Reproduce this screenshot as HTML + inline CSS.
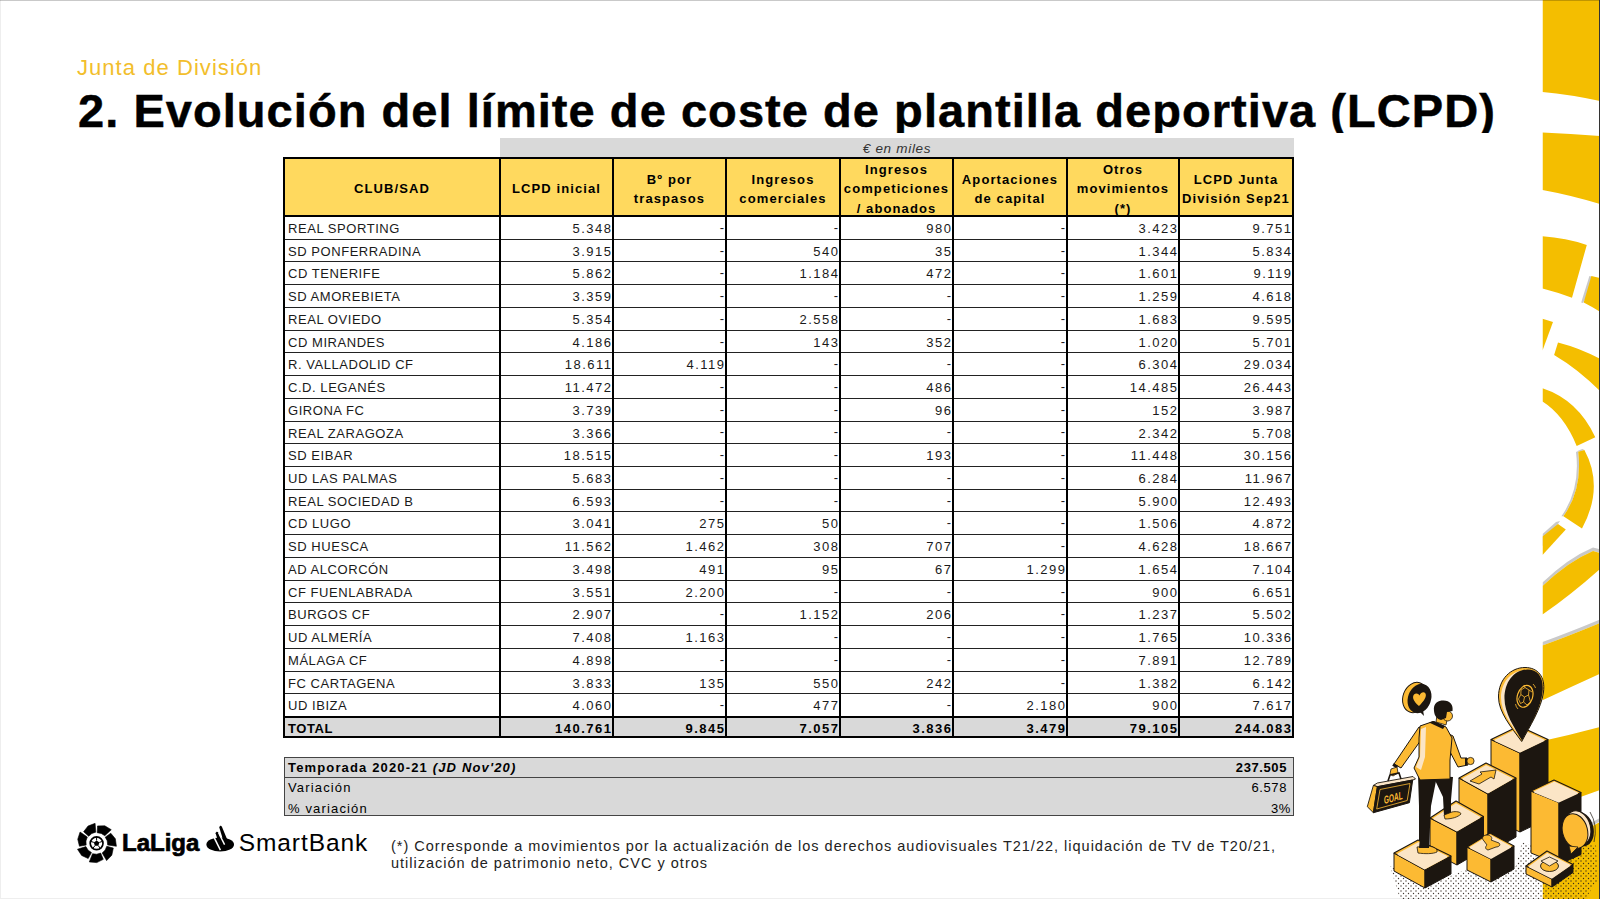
<!DOCTYPE html>
<html lang="es">
<head>
<meta charset="utf-8">
<title>Evolución del límite de coste de plantilla deportiva (LCPD)</title>
<style>
html,body{margin:0;padding:0;}
body{width:1600px;height:899px;position:relative;overflow:hidden;background:#fff;font-family:"Liberation Sans",Arial,sans-serif;color:#000;}
.edge-t{position:absolute;left:0;top:0;width:1600px;height:1px;background:rgba(0,0,0,0.21);}
.edge-l{position:absolute;left:0;top:0;width:1px;height:899px;background:#eeeeee;}
.edge-b{position:absolute;left:0;top:898px;width:1600px;height:1px;background:#eeeeee;}
.edge-r{position:absolute;left:1599px;top:0;width:1px;height:899px;background:#333;}
.sub{position:absolute;left:77px;top:55px;font-size:22px;color:#F2BE2C;white-space:nowrap;letter-spacing:1.05px;}
.title{position:absolute;left:78px;top:85px;height:47.5px;overflow:hidden;font-size:47px;line-height:52px;font-weight:bold;white-space:nowrap;letter-spacing:1.05px;-webkit-text-stroke:0.5px #000;}
.band{position:absolute;background:#d9d9d9;font-size:13.5px;color:#333;text-align:center;line-height:21px;letter-spacing:0.7px;}
.hdr{position:absolute;background:#FFD95E;}
.hc{position:absolute;display:flex;align-items:center;justify-content:center;text-align:center;font-weight:bold;font-size:13px;line-height:19.2px;letter-spacing:1.1px;padding-top:3.4px;box-sizing:border-box;}
.tot{position:absolute;background:#d9d9d9;}
.rt{position:absolute;left:0;width:1600px;font-size:13px;color:#1a1a1a;}
.rt span{position:absolute;top:0.5px;line-height:23px;white-space:nowrap;letter-spacing:0.55px;}
.rt span.nu{letter-spacing:1.5px;}
.rt span.d{top:-0.6px;}
.rt.b{font-weight:bold;color:#000;}
.hl{position:absolute;height:1px;background:#222;}
.hl2{position:absolute;height:2px;background:#000;}
.vl{position:absolute;width:2px;background:#000;}
.sum{position:absolute;left:284px;top:757px;width:1010px;height:59px;background:#d9d9d9;border:1px solid #444;box-sizing:border-box;font-size:13px;}
.sum .r{position:absolute;left:0;width:100%;height:19px;line-height:19px;}
.sum .l{position:absolute;left:3px;white-space:nowrap;letter-spacing:1.15px;}
.sum .v{position:absolute;right:4px;white-space:nowrap;letter-spacing:0.6px;}
.sum .sep{position:absolute;left:0;top:19px;width:100%;height:1px;background:#444;}
.note{position:absolute;left:391px;top:837.5px;font-size:14.5px;line-height:17.5px;color:#222;white-space:nowrap;letter-spacing:1.0px;}
.logo{position:absolute;left:76px;top:822px;}
</style>
</head>
<body>
<div class="edge-l"></div><div class="edge-b"></div>

<div class="sub">Junta de División</div>
<div class="title">2. Evolución del límite de coste de plantilla deportiva (LCPD)</div>

<div class="band" style="left:500px;top:138px;width:794px;height:20px"><i>€ en miles</i></div>
<div class="hdr" style="left:284px;top:158px;width:1009px;height:58.5px"></div>
<div class="hc" style="left:284px;top:158px;width:216px;height:58.5px"><span>CLUB/SAD</span></div>
<div class="hc" style="left:500px;top:158px;width:113px;height:58.5px"><span>LCPD inicial</span></div>
<div class="hc" style="left:613px;top:158px;width:113px;height:58.5px"><span>Bº por<br>traspasos</span></div>
<div class="hc" style="left:726px;top:158px;width:114px;height:58.5px"><span>Ingresos<br>comerciales</span></div>
<div class="hc" style="left:840px;top:158px;width:113px;height:58.5px"><span>Ingresos<br>competiciones<br>/ abonados</span></div>
<div class="hc" style="left:953px;top:158px;width:114px;height:58.5px"><span>Aportaciones<br>de capital</span></div>
<div class="hc" style="left:1067px;top:158px;width:112px;height:58.5px"><span>Otros<br>movimientos<br>(*)</span></div>
<div class="hc" style="left:1179px;top:158px;width:114px;height:58.5px"><span>LCPD Junta<br>División Sep21</span></div>
<div class="tot" style="left:284px;top:716.56px;width:1009px;height:19.44px"></div>
<div class="rt" style="top:216.50px;height:22.73px">
<span class="nm" style="left:288px">REAL SPORTING</span>
<span class="nu" style="right:987.5px">5.348</span>
<span class="nu d" style="right:874.5px">-</span>
<span class="nu d" style="right:760.5px">-</span>
<span class="nu" style="right:647.5px">980</span>
<span class="nu d" style="right:533.5px">-</span>
<span class="nu" style="right:421.5px">3.423</span>
<span class="nu" style="right:307.5px">9.751</span>
</div>
<div class="rt" style="top:239.23px;height:22.73px">
<span class="nm" style="left:288px">SD PONFERRADINA</span>
<span class="nu" style="right:987.5px">3.915</span>
<span class="nu d" style="right:874.5px">-</span>
<span class="nu" style="right:760.5px">540</span>
<span class="nu" style="right:647.5px">35</span>
<span class="nu d" style="right:533.5px">-</span>
<span class="nu" style="right:421.5px">1.344</span>
<span class="nu" style="right:307.5px">5.834</span>
</div>
<div class="rt" style="top:261.96px;height:22.73px">
<span class="nm" style="left:288px">CD TENERIFE</span>
<span class="nu" style="right:987.5px">5.862</span>
<span class="nu d" style="right:874.5px">-</span>
<span class="nu" style="right:760.5px">1.184</span>
<span class="nu" style="right:647.5px">472</span>
<span class="nu d" style="right:533.5px">-</span>
<span class="nu" style="right:421.5px">1.601</span>
<span class="nu" style="right:307.5px">9.119</span>
</div>
<div class="rt" style="top:284.69px;height:22.73px">
<span class="nm" style="left:288px">SD AMOREBIETA</span>
<span class="nu" style="right:987.5px">3.359</span>
<span class="nu d" style="right:874.5px">-</span>
<span class="nu d" style="right:760.5px">-</span>
<span class="nu d" style="right:647.5px">-</span>
<span class="nu d" style="right:533.5px">-</span>
<span class="nu" style="right:421.5px">1.259</span>
<span class="nu" style="right:307.5px">4.618</span>
</div>
<div class="rt" style="top:307.42px;height:22.73px">
<span class="nm" style="left:288px">REAL OVIEDO</span>
<span class="nu" style="right:987.5px">5.354</span>
<span class="nu d" style="right:874.5px">-</span>
<span class="nu" style="right:760.5px">2.558</span>
<span class="nu d" style="right:647.5px">-</span>
<span class="nu d" style="right:533.5px">-</span>
<span class="nu" style="right:421.5px">1.683</span>
<span class="nu" style="right:307.5px">9.595</span>
</div>
<div class="rt" style="top:330.15px;height:22.73px">
<span class="nm" style="left:288px">CD MIRANDES</span>
<span class="nu" style="right:987.5px">4.186</span>
<span class="nu d" style="right:874.5px">-</span>
<span class="nu" style="right:760.5px">143</span>
<span class="nu" style="right:647.5px">352</span>
<span class="nu d" style="right:533.5px">-</span>
<span class="nu" style="right:421.5px">1.020</span>
<span class="nu" style="right:307.5px">5.701</span>
</div>
<div class="rt" style="top:352.88px;height:22.73px">
<span class="nm" style="left:288px">R. VALLADOLID CF</span>
<span class="nu" style="right:987.5px">18.611</span>
<span class="nu" style="right:874.5px">4.119</span>
<span class="nu d" style="right:760.5px">-</span>
<span class="nu d" style="right:647.5px">-</span>
<span class="nu d" style="right:533.5px">-</span>
<span class="nu" style="right:421.5px">6.304</span>
<span class="nu" style="right:307.5px">29.034</span>
</div>
<div class="rt" style="top:375.61px;height:22.73px">
<span class="nm" style="left:288px">C.D. LEGANÉS</span>
<span class="nu" style="right:987.5px">11.472</span>
<span class="nu d" style="right:874.5px">-</span>
<span class="nu d" style="right:760.5px">-</span>
<span class="nu" style="right:647.5px">486</span>
<span class="nu d" style="right:533.5px">-</span>
<span class="nu" style="right:421.5px">14.485</span>
<span class="nu" style="right:307.5px">26.443</span>
</div>
<div class="rt" style="top:398.34px;height:22.73px">
<span class="nm" style="left:288px">GIRONA FC</span>
<span class="nu" style="right:987.5px">3.739</span>
<span class="nu d" style="right:874.5px">-</span>
<span class="nu d" style="right:760.5px">-</span>
<span class="nu" style="right:647.5px">96</span>
<span class="nu d" style="right:533.5px">-</span>
<span class="nu" style="right:421.5px">152</span>
<span class="nu" style="right:307.5px">3.987</span>
</div>
<div class="rt" style="top:421.07px;height:22.73px">
<span class="nm" style="left:288px">REAL ZARAGOZA</span>
<span class="nu" style="right:987.5px">3.366</span>
<span class="nu d" style="right:874.5px">-</span>
<span class="nu d" style="right:760.5px">-</span>
<span class="nu d" style="right:647.5px">-</span>
<span class="nu d" style="right:533.5px">-</span>
<span class="nu" style="right:421.5px">2.342</span>
<span class="nu" style="right:307.5px">5.708</span>
</div>
<div class="rt" style="top:443.80px;height:22.73px">
<span class="nm" style="left:288px">SD EIBAR</span>
<span class="nu" style="right:987.5px">18.515</span>
<span class="nu d" style="right:874.5px">-</span>
<span class="nu d" style="right:760.5px">-</span>
<span class="nu" style="right:647.5px">193</span>
<span class="nu d" style="right:533.5px">-</span>
<span class="nu" style="right:421.5px">11.448</span>
<span class="nu" style="right:307.5px">30.156</span>
</div>
<div class="rt" style="top:466.53px;height:22.73px">
<span class="nm" style="left:288px">UD LAS PALMAS</span>
<span class="nu" style="right:987.5px">5.683</span>
<span class="nu d" style="right:874.5px">-</span>
<span class="nu d" style="right:760.5px">-</span>
<span class="nu d" style="right:647.5px">-</span>
<span class="nu d" style="right:533.5px">-</span>
<span class="nu" style="right:421.5px">6.284</span>
<span class="nu" style="right:307.5px">11.967</span>
</div>
<div class="rt" style="top:489.26px;height:22.73px">
<span class="nm" style="left:288px">REAL SOCIEDAD B</span>
<span class="nu" style="right:987.5px">6.593</span>
<span class="nu d" style="right:874.5px">-</span>
<span class="nu d" style="right:760.5px">-</span>
<span class="nu d" style="right:647.5px">-</span>
<span class="nu d" style="right:533.5px">-</span>
<span class="nu" style="right:421.5px">5.900</span>
<span class="nu" style="right:307.5px">12.493</span>
</div>
<div class="rt" style="top:511.99px;height:22.73px">
<span class="nm" style="left:288px">CD LUGO</span>
<span class="nu" style="right:987.5px">3.041</span>
<span class="nu" style="right:874.5px">275</span>
<span class="nu" style="right:760.5px">50</span>
<span class="nu d" style="right:647.5px">-</span>
<span class="nu d" style="right:533.5px">-</span>
<span class="nu" style="right:421.5px">1.506</span>
<span class="nu" style="right:307.5px">4.872</span>
</div>
<div class="rt" style="top:534.72px;height:22.73px">
<span class="nm" style="left:288px">SD HUESCA</span>
<span class="nu" style="right:987.5px">11.562</span>
<span class="nu" style="right:874.5px">1.462</span>
<span class="nu" style="right:760.5px">308</span>
<span class="nu" style="right:647.5px">707</span>
<span class="nu d" style="right:533.5px">-</span>
<span class="nu" style="right:421.5px">4.628</span>
<span class="nu" style="right:307.5px">18.667</span>
</div>
<div class="rt" style="top:557.45px;height:22.73px">
<span class="nm" style="left:288px">AD ALCORCÓN</span>
<span class="nu" style="right:987.5px">3.498</span>
<span class="nu" style="right:874.5px">491</span>
<span class="nu" style="right:760.5px">95</span>
<span class="nu" style="right:647.5px">67</span>
<span class="nu" style="right:533.5px">1.299</span>
<span class="nu" style="right:421.5px">1.654</span>
<span class="nu" style="right:307.5px">7.104</span>
</div>
<div class="rt" style="top:580.18px;height:22.73px">
<span class="nm" style="left:288px">CF FUENLABRADA</span>
<span class="nu" style="right:987.5px">3.551</span>
<span class="nu" style="right:874.5px">2.200</span>
<span class="nu d" style="right:760.5px">-</span>
<span class="nu d" style="right:647.5px">-</span>
<span class="nu d" style="right:533.5px">-</span>
<span class="nu" style="right:421.5px">900</span>
<span class="nu" style="right:307.5px">6.651</span>
</div>
<div class="rt" style="top:602.91px;height:22.73px">
<span class="nm" style="left:288px">BURGOS CF</span>
<span class="nu" style="right:987.5px">2.907</span>
<span class="nu d" style="right:874.5px">-</span>
<span class="nu" style="right:760.5px">1.152</span>
<span class="nu" style="right:647.5px">206</span>
<span class="nu d" style="right:533.5px">-</span>
<span class="nu" style="right:421.5px">1.237</span>
<span class="nu" style="right:307.5px">5.502</span>
</div>
<div class="rt" style="top:625.64px;height:22.73px">
<span class="nm" style="left:288px">UD ALMERÍA</span>
<span class="nu" style="right:987.5px">7.408</span>
<span class="nu" style="right:874.5px">1.163</span>
<span class="nu d" style="right:760.5px">-</span>
<span class="nu d" style="right:647.5px">-</span>
<span class="nu d" style="right:533.5px">-</span>
<span class="nu" style="right:421.5px">1.765</span>
<span class="nu" style="right:307.5px">10.336</span>
</div>
<div class="rt" style="top:648.37px;height:22.73px">
<span class="nm" style="left:288px">MÁLAGA CF</span>
<span class="nu" style="right:987.5px">4.898</span>
<span class="nu d" style="right:874.5px">-</span>
<span class="nu d" style="right:760.5px">-</span>
<span class="nu d" style="right:647.5px">-</span>
<span class="nu d" style="right:533.5px">-</span>
<span class="nu" style="right:421.5px">7.891</span>
<span class="nu" style="right:307.5px">12.789</span>
</div>
<div class="rt" style="top:671.10px;height:22.73px">
<span class="nm" style="left:288px">FC CARTAGENA</span>
<span class="nu" style="right:987.5px">3.833</span>
<span class="nu" style="right:874.5px">135</span>
<span class="nu" style="right:760.5px">550</span>
<span class="nu" style="right:647.5px">242</span>
<span class="nu d" style="right:533.5px">-</span>
<span class="nu" style="right:421.5px">1.382</span>
<span class="nu" style="right:307.5px">6.142</span>
</div>
<div class="rt" style="top:693.83px;height:22.73px">
<span class="nm" style="left:288px">UD IBIZA</span>
<span class="nu" style="right:987.5px">4.060</span>
<span class="nu d" style="right:874.5px">-</span>
<span class="nu" style="right:760.5px">477</span>
<span class="nu d" style="right:647.5px">-</span>
<span class="nu" style="right:533.5px">2.180</span>
<span class="nu" style="right:421.5px">900</span>
<span class="nu" style="right:307.5px">7.617</span>
</div>
<div class="rt b" style="top:716.56px;height:22.73px">
<span class="nm" style="left:288px">TOTAL</span>
<span class="nu" style="right:987.5px">140.761</span>
<span class="nu" style="right:874.5px">9.845</span>
<span class="nu" style="right:760.5px">7.057</span>
<span class="nu" style="right:647.5px">3.836</span>
<span class="nu" style="right:533.5px">3.479</span>
<span class="nu" style="right:421.5px">79.105</span>
<span class="nu" style="right:307.5px">244.083</span>
</div>
<div class="hl" style="left:284px;top:238.73px;width:1009px"></div>
<div class="hl" style="left:284px;top:261.46px;width:1009px"></div>
<div class="hl" style="left:284px;top:284.19px;width:1009px"></div>
<div class="hl" style="left:284px;top:306.92px;width:1009px"></div>
<div class="hl" style="left:284px;top:329.65px;width:1009px"></div>
<div class="hl" style="left:284px;top:352.38px;width:1009px"></div>
<div class="hl" style="left:284px;top:375.11px;width:1009px"></div>
<div class="hl" style="left:284px;top:397.84px;width:1009px"></div>
<div class="hl" style="left:284px;top:420.57px;width:1009px"></div>
<div class="hl" style="left:284px;top:443.30px;width:1009px"></div>
<div class="hl" style="left:284px;top:466.03px;width:1009px"></div>
<div class="hl" style="left:284px;top:488.76px;width:1009px"></div>
<div class="hl" style="left:284px;top:511.49px;width:1009px"></div>
<div class="hl" style="left:284px;top:534.22px;width:1009px"></div>
<div class="hl" style="left:284px;top:556.95px;width:1009px"></div>
<div class="hl" style="left:284px;top:579.68px;width:1009px"></div>
<div class="hl" style="left:284px;top:602.41px;width:1009px"></div>
<div class="hl" style="left:284px;top:625.14px;width:1009px"></div>
<div class="hl" style="left:284px;top:647.87px;width:1009px"></div>
<div class="hl" style="left:284px;top:670.60px;width:1009px"></div>
<div class="hl" style="left:284px;top:693.33px;width:1009px"></div>
<div class="hl" style="left:284px;top:716.06px;width:1009px"></div>
<div class="hl2" style="left:283px;top:157.00px;width:1011px"></div>
<div class="hl2" style="left:283px;top:215.00px;width:1011px"></div>
<div class="hl2" style="left:283px;top:715.56px;width:1011px"></div>
<div class="hl2" style="left:283px;top:736.00px;width:1011px"></div>
<div class="vl" style="left:283px;top:157px;height:581.00px"></div>
<div class="vl" style="left:499px;top:157px;height:581.00px"></div>
<div class="vl" style="left:612px;top:157px;height:581.00px"></div>
<div class="vl" style="left:725px;top:157px;height:581.00px"></div>
<div class="vl" style="left:839px;top:157px;height:581.00px"></div>
<div class="vl" style="left:952px;top:157px;height:581.00px"></div>
<div class="vl" style="left:1066px;top:157px;height:581.00px"></div>
<div class="vl" style="left:1178px;top:157px;height:581.00px"></div>
<div class="vl" style="left:1292px;top:157px;height:581.00px"></div>

<div class="sum">
  <div class="r" style="top:0"><span class="l"><b>Temporada 2020-21 <i>(JD Nov'20)</i></b></span><span class="v" style="right:6px"><b>237.505</b></span></div>
  <div class="sep"></div>
  <div class="r" style="top:20px"><span class="l">Variación</span><span class="v" style="right:6px">6.578</span></div>
  <div class="r" style="top:40.5px"><span class="l">% variación</span><span class="v" style="right:2px">3%</span></div>
</div>

<div class="note">(*) Corresponde a movimientos por la actualización de los derechos audiovisuales T21/22, liquidación de TV de T20/21,<br>utilización de patrimonio neto, CVC y otros</div>

<svg class="logo" width="320" height="60" viewBox="60 815 320 60" style="position:absolute;left:60px;top:815px">
<g fill="#000" stroke="#000" stroke-width="0.6" stroke-linejoin="round"><polygon points="88.69,836.24 83.62,831.71 88.05,826.00 95.09,823.36 95.76,832.13 91.77,833.53"/><polygon points="97.19,832.72 97.56,825.93 104.80,825.83 111.25,829.69 104.81,835.68 101.23,833.43"/><polygon points="105.24,837.16 110.78,833.22 115.37,838.82 116.38,846.27 107.68,844.96 107.20,840.77"/><polygon points="106.79,846.23 113.32,848.11 111.81,855.18 106.61,860.61 102.21,853.00 105.19,850.01"/><polygon points="100.66,853.09 103.27,859.37 96.79,862.60 89.30,861.92 92.51,853.73 96.71,854.20"/><polygon points="91.48,852.58 88.19,858.53 81.63,855.48 77.49,849.21 85.90,846.61 88.15,850.18"/><polygon points="86.15,845.08 79.45,846.23 77.74,839.19 80.07,832.04 87.34,837.00 85.95,840.98"/></g>
<circle cx="96.6" cy="843.3" r="6.4" fill="none" stroke="#000" stroke-width="1.7"/>
<polygon points="96.60,840.40 99.36,842.40 98.30,845.65 94.90,845.65 93.84,842.40" fill="#000"/>
<g stroke="#000" stroke-width="1"><line x1="96.60" y1="840.40" x2="96.60" y2="837.00"/><line x1="99.36" y1="842.40" x2="102.59" y2="841.35"/><line x1="98.30" y1="845.65" x2="100.30" y2="848.40"/><line x1="94.90" y1="845.65" x2="92.90" y2="848.40"/><line x1="93.84" y1="842.40" x2="90.61" y2="841.35"/></g>
<text x="122" y="850.7" font-family="Liberation Sans, Arial, sans-serif" font-weight="bold" font-size="24" letter-spacing="0" stroke="#000" stroke-width="0.7">LaLiga</text>
<ellipse cx="220.2" cy="844.5" rx="13.8" ry="7.1" fill="#000"/>
<path d="M215.6,833.2 C216,831.5 217.5,831.2 218.2,832.6 L223.6,845 L219.6,846.5 Z" fill="#000"/>
<path d="M219.3,827.5 C219.6,825.5 221.2,825.2 221.9,826.8 L227.2,839.5 L223.5,841.5 Z" fill="#000"/>
<line x1="214.2" y1="837.6" x2="220.4" y2="850.2" stroke="#fff" stroke-width="1.5"/>
<line x1="218.7" y1="833" x2="224.6" y2="844.6" stroke="#fff" stroke-width="1.4"/>
<text x="238.8" y="850.6" font-family="Liberation Sans, Arial, sans-serif" font-size="24.5" letter-spacing="0.9">SmartBank</text>
</svg>
<svg class="decor" width="1600" height="899" viewBox="0 0 1600 899" style="position:absolute;left:0;top:0">
<defs><clipPath id="strip"><rect x="1542.5" y="0" width="57" height="899"/></clipPath></defs>
<g clip-path="url(#strip)">
<g fill="#c9c9c9">
<path d="M1589.4,276 L1597,278 L1583,303 L1581.2,302.4 Z"/>
<path d="M1576,452 Q1580.6,489.4 1561.4,516.2 L1563.4,516.2 Q1582.6,489.4 1578.2,451.7 Z"/>
<path d="M1576.2,451.5 L1582.4,449 L1584.4,450 L1578.2,451.7 Z"/>
<path d="M1556,522 L1560,521 L1542.5,546 L1542.5,534 Z"/>
<path d="M1542.5,582.6 Q1568,558 1593,547.5 L1599,549 L1599,552.4 L1593,551 Q1568,561.5 1542.5,586 Z"/>
<path d="M1542.5,642 Q1570,632 1600,619.5 L1600,623 Q1570,635.5 1542.5,645.5 Z"/>
<path d="M1542.5,846.5 Q1570,834.5 1599,818.5 L1599,822 Q1570,838 1542.5,850 Z"/>
</g>
<g fill="#F4BE00">
<path d="M1542.5,0 L1600,0 L1600,101 Q1570,94.5 1542.5,92 Z"/>
<path d="M1542.5,132.5 Q1570,133.5 1600,136 L1600,204 Q1570,195 1542.5,190 Z"/>
<path d="M1542.5,236.3 Q1566,238 1586.8,244.9 L1572,297.8 Q1557,292 1542.5,288.4 Z"/>
<path d="M1591.4,276 L1600,278 L1600,311.8 Q1591,306 1583.7,302.4 Z"/>
<path d="M1542.5,318.8 L1553,321.9 L1542.5,350.6 Z"/>
<path d="M1558,342.4 Q1580,348 1600,358.8 L1600,391 Q1578,369 1554.1,354.9 Z"/>
<path d="M1542.5,388.3 Q1578,400 1595.3,437.3 L1576.7,445.9 Q1564,415 1542.5,401.5 Z"/>
<path d="M1578.2,451.7 L1584.4,450 Q1604.4,487 1582,528.6 L1563.4,516.2 Q1582.6,489.4 1578.2,451.7 Z"/>
<path d="M1558,524 L1565.8,529.4 L1542.5,555 L1542.5,536.4 Z"/>
<path d="M1542.5,586 Q1568,561.5 1593,551 L1600,553 L1600,569 Q1570.8,595 1542.5,614.6 Z"/>
<path d="M1542.5,645.5 Q1570,635.5 1600,623 L1600,673.8 Q1570,687.5 1542.5,700.2 Z"/>
<path d="M1542.5,741 Q1570,735 1600,727 L1600,790 Q1570,800 1542.5,812 Z"/>
<path d="M1542.5,850 Q1570,838 1600,822 L1600,899 L1542.5,899 Z"/>
</g>
</g>
</svg>

<svg class="illus" width="260" height="250" viewBox="1350 650 260 250" style="position:absolute;left:1350px;top:650px">
<defs><pattern id="dots" width="5" height="5" patternUnits="userSpaceOnUse"><circle cx="1" cy="1" r="0.7" fill="#2a2018"/><circle cx="3.5" cy="3.5" r="0.7" fill="#2a2018"/></pattern></defs>
<polygon points="1390,866 1425,886 1470,868 1492,880 1516,866 1522,842 1533,846 1533,856 1560,860 1575,845 1596,845 1598,880 1585,899 1400,899" fill="url(#dots)" opacity="0.9"/>
<polygon points="1491.0,739.5 1520.0,753.0 1520.0,832.0 1491.0,818.5" fill="#FCBA33" stroke="#1c1610" stroke-width="1" stroke-linejoin="round"/>
<polygon points="1520.0,753.0 1548.0,739.5 1548.0,818.5 1520.0,832.0" fill="#1c1610" stroke="#1c1610" stroke-width="1" stroke-linejoin="round"/>
<polygon points="1491.0,739.5 1519.0,726.0 1548.0,739.5 1520.0,753.0" fill="#FCBA33" stroke="#1c1610" stroke-width="1.1" stroke-linejoin="round"/>
<polygon points="1495.6,740.3 1519.1,729.0 1543.4,740.3 1519.9,751.6" fill="#FBE5C6" stroke="#FBE5C6" stroke-width="2" stroke-linejoin="round"/>

<path d="M1521.7,741.5 C1511,727 1498.5,712 1498.5,697 C1498.5,679 1511,667.5 1525,667.5 C1538,667.5 1545.5,677 1543.5,692 C1541.5,708 1530,726 1521.7,741.5 Z" fill="#FCBA33" stroke="#1c1610" stroke-width="1"/>
<path d="M1521.5,739 C1512,726 1501,712 1501,698 C1501,682 1511,671 1524,670.5 C1530,670.5 1520,690 1521.5,739 Z" fill="#FBE5C6"/>
<path d="M1522,740.5 C1514,727 1504.5,713 1504.5,698.5 C1504.5,682 1514,670 1527.5,669.5 C1538.5,669.5 1544,678 1542.5,692 C1541,708 1530,726 1522,740.5 Z" fill="#1c1610"/>
<ellipse cx="1525" cy="696.3" rx="7.6" ry="11.2" transform="rotate(18 1525 696.3)" fill="none" stroke="#FCBA33" stroke-width="1.2"/>
<g fill="none" stroke="#FCBA33" stroke-width="0.8"><path d="M1521,690 L1525,687.5 L1529,690 L1528.5,695 L1524.5,697 L1520.8,694.5 Z"/><path d="M1524.5,697 L1523.5,702 L1527,705 L1530.5,702 L1528.5,695"/><path d="M1520.8,694.5 L1518.5,699 L1520.5,703.5 L1523.5,702"/><path d="M1529,690 L1532,692 M1525,687.5 L1524,685"/></g>
<path d="M1533,684 Q1535,686 1535.5,688" fill="none" stroke="#FCBA33" stroke-width="0.8"/>
<path d="M1515.5,704 Q1516,707 1518,709" fill="none" stroke="#FCBA33" stroke-width="0.8"/>
<polygon points="1531.0,791.0 1559.0,802.5 1559.0,864.5 1531.0,853.0" fill="#FCBA33" stroke="#1c1610" stroke-width="1" stroke-linejoin="round"/>
<polygon points="1559.0,802.5 1581.0,792.5 1581.0,854.5 1559.0,864.5" fill="#1c1610" stroke="#1c1610" stroke-width="1" stroke-linejoin="round"/>
<polygon points="1531.0,791.0 1554.0,780.0 1581.0,792.5 1559.0,802.5" fill="#FCBA33" stroke="#1c1610" stroke-width="1.1" stroke-linejoin="round"/>
<polygon points="1535.0,791.9 1554.4,782.6 1577.0,793.1 1558.6,801.5" fill="#FBE5C6" stroke="#FBE5C6" stroke-width="2" stroke-linejoin="round"/>

<polygon points="1459.0,778.0 1488.0,794.0 1488.0,853.0 1459.0,837.0" fill="#FCBA33" stroke="#1c1610" stroke-width="1" stroke-linejoin="round"/>
<polygon points="1488.0,794.0 1516.0,778.0 1516.0,837.0 1488.0,853.0" fill="#1c1610" stroke="#1c1610" stroke-width="1" stroke-linejoin="round"/>
<polygon points="1459.0,778.0 1486.0,763.0 1516.0,778.0 1488.0,794.0" fill="#FCBA33" stroke="#1c1610" stroke-width="1.1" stroke-linejoin="round"/>
<polygon points="1463.5,778.8 1486.2,766.2 1511.4,778.8 1487.9,792.3" fill="#FBE5C6" stroke="#FBE5C6" stroke-width="2" stroke-linejoin="round"/>
<polygon points="1470,781 1482,774 1480,772 1496,770 1494,779 1491,777 1479,784" fill="#FCBA33" stroke="#1c1610" stroke-width="0.8" stroke-linejoin="round"/>
<polygon points="1430.0,818.0 1457.0,832.0 1457.0,865.0 1430.0,851.0" fill="#FCBA33" stroke="#1c1610" stroke-width="1" stroke-linejoin="round"/>
<polygon points="1457.0,832.0 1483.5,816.5 1483.5,849.5 1457.0,865.0" fill="#1c1610" stroke="#1c1610" stroke-width="1" stroke-linejoin="round"/>
<polygon points="1430.0,818.0 1456.0,801.0 1483.5,816.5 1457.0,832.0" fill="#FCBA33" stroke="#1c1610" stroke-width="1.1" stroke-linejoin="round"/>
<polygon points="1434.3,818.6 1456.1,804.3 1479.2,817.4 1456.9,830.4" fill="#FBE5C6" stroke="#FBE5C6" stroke-width="2" stroke-linejoin="round"/>

<path d="M1418,774 L1437,776 L1431,806 L1429,848 L1419,848 L1419,806 Z" fill="#1c1610"/>
<path d="M1433,776 L1453,777 L1451,800 L1451,816 L1444,816 L1443,797 Z" fill="#1c1610"/>
<path d="M1417,847 L1429,846 C1434,847 1438,849 1437,852 C1433,854 1425,854 1418,853 Z" fill="#FCBA33" stroke="#1c1610" stroke-width="0.8"/>
<path d="M1444,815 L1452,812 C1456,811 1461,812 1461,814 C1458,817 1452,819 1445,819 Z" fill="#FCBA33" stroke="#1c1610" stroke-width="0.8"/>
<path d="M1419,727 L1426,733 L1401,768 L1394,764 Z" fill="#FCBA33" stroke="#1c1610" stroke-width="1"/>
<path d="M1447,733 L1453,736 L1461,758 L1467,758 L1468,765 L1458,767 L1447,746 Z" fill="#FCBA33" stroke="#1c1610" stroke-width="1"/>
<rect x="1465" y="758" width="2.5" height="7" fill="#1c1610"/>
<circle cx="1470.5" cy="761" r="3.6" fill="#FCBA33" stroke="#1c1610" stroke-width="0.8"/>
<rect x="1393" y="764" width="5" height="3" fill="#1c1610" transform="rotate(30 1395 765)"/>
<path d="M1420,726 L1433,721.5 L1446,727 L1452,738 L1450,760 L1450,779 L1420,780 L1414,768 L1419,757 L1419,738 Z" fill="#FCBA33" stroke="#1c1610" stroke-width="1"/>
<path d="M1421,729 L1426,727 L1425,757 L1421,770 L1416,767 L1420,757 Z" fill="#FBE5C6"/>
<path d="M1429,722.5 L1434,721 L1445,726 L1443,729 Z" fill="#1c1610"/>
<polygon points="1437,715 1448,715 1446,725 1436,722" fill="#FCBA33" stroke="#1c1610" stroke-width="0.8"/>
<circle cx="1447.5" cy="716" r="5" fill="#FCBA33" stroke="#1c1610" stroke-width="0.8"/>
<path d="M1434,711 C1433,703 1438,700.5 1443.5,700.5 C1450,700.5 1453.5,705 1452.5,711 L1447,712 L1446,718 L1441,720 C1437,719 1434.5,716 1434,711 Z" fill="#1c1610"/>
<path d="M1391,769 L1397,767 L1398,773 L1393,776 L1390,774 Z" fill="#FCBA33" stroke="#1c1610" stroke-width="0.8"/>
<polygon points="1373.4,785.4 1377.4,783 1413,776.5 1415.5,779 1412.7,780 1377.4,786.7" fill="#FBE5C6" stroke="#1c1610" stroke-width="0.9"/>
<path d="M1388,781 L1390,775 L1399,773 L1401,779" fill="none" stroke="#1c1610" stroke-width="1.6"/>
<polygon points="1373.4,785.4 1377.4,786.7 1373.4,812.7 1367.3,806.7" fill="#FCBA33" stroke="#1c1610" stroke-width="0.9"/>
<polygon points="1377.4,786.7 1412.7,780 1409.4,802.7 1373.4,812.7" fill="#1c1610" stroke="#1c1610" stroke-width="1" stroke-linejoin="round"/>
<polygon points="1380,789.5 1410,783.5 1407.2,800.5 1376.7,809" fill="none" stroke="#FCBA33" stroke-width="0.8"/>
<text x="0" y="0" transform="translate(1384,804) rotate(-15) skewX(-14) scale(0.78,1.25)" font-family="Liberation Sans, Arial, sans-serif" font-weight="bold" font-size="8.6" fill="#FCBA33" letter-spacing="0">GOAL</text>
<ellipse cx="1415" cy="697.5" rx="12" ry="15.5" transform="rotate(20 1415 697.5)" fill="#FCBA33" stroke="#1c1610" stroke-width="1"/>
<ellipse cx="1419.5" cy="698.5" rx="11.5" ry="15" transform="rotate(20 1419.5 698.5)" fill="#1c1610"/>
<path d="M1419,706 C1413,701 1412,697 1414,694.5 C1416,692.5 1418.5,693.5 1419.5,695.5 C1421,692 1424,691.5 1425.5,693.5 C1427,696.5 1424,701 1419,706 Z" fill="#FCBA33"/>
<path d="M1420,712 L1424,716 L1423,710 Z" fill="#1c1610"/>
<polygon points="1467.0,847.0 1491.0,859.0 1491.0,882.0 1467.0,870.0" fill="#FCBA33" stroke="#1c1610" stroke-width="1" stroke-linejoin="round"/>
<polygon points="1491.0,859.0 1514.0,846.0 1514.0,869.0 1491.0,882.0" fill="#1c1610" stroke="#1c1610" stroke-width="1" stroke-linejoin="round"/>
<polygon points="1467.0,847.0 1490.0,833.0 1514.0,846.0 1491.0,859.0" fill="#FCBA33" stroke="#1c1610" stroke-width="1.1" stroke-linejoin="round"/>
<polygon points="1470.8,847.7 1490.1,835.9 1510.2,846.8 1490.9,857.8" fill="#FBE5C6" stroke="#FBE5C6" stroke-width="2" stroke-linejoin="round"/>
<path d="M1484,841 C1481,838 1483,835 1487,835 C1491,835 1493,838 1491,840 L1499,843 C1501,845 1499,847 1496,847 L1488,850 C1485,849 1485,847 1487,845 Z" fill="#FCBA33" stroke="#1c1610" stroke-width="0.8"/>
<polygon points="1394.0,853.0 1425.0,870.0 1425.0,888.0 1394.0,871.0" fill="#FCBA33" stroke="#1c1610" stroke-width="1" stroke-linejoin="round"/>
<polygon points="1425.0,870.0 1451.0,856.0 1451.0,874.0 1425.0,888.0" fill="#1c1610" stroke="#1c1610" stroke-width="1" stroke-linejoin="round"/>
<polygon points="1394.0,853.0 1418.0,840.0 1451.0,856.0 1425.0,870.0" fill="#FCBA33" stroke="#1c1610" stroke-width="1.1" stroke-linejoin="round"/>
<polygon points="1398.5,854.1 1418.6,843.2 1446.4,856.6 1424.5,868.4" fill="#FBE5C6" stroke="#FBE5C6" stroke-width="2" stroke-linejoin="round"/>

<path d="M1417,847 L1429,846 C1434,847 1438,849 1437,852 C1433,854 1425,854 1418,853 Z" fill="#FCBA33" stroke="#1c1610" stroke-width="0.8"/>
<path d="M1420,838 L1429,838 L1429,848 L1419,848 Z" fill="#1c1610"/>
<polygon points="1526.0,866.0 1552.0,879.0 1552.0,887.0 1526.0,874.0" fill="#FCBA33" stroke="#1c1610" stroke-width="1" stroke-linejoin="round"/>
<polygon points="1552.0,879.0 1573.0,864.5 1573.0,872.5 1552.0,887.0" fill="#1c1610" stroke="#1c1610" stroke-width="1" stroke-linejoin="round"/>
<polygon points="1526.0,866.0 1547.0,851.0 1573.0,864.5 1552.0,879.0" fill="#FCBA33" stroke="#1c1610" stroke-width="1.1" stroke-linejoin="round"/>
<polygon points="1529.8,866.7 1547.4,854.1 1569.2,865.4 1551.6,877.6" fill="#FBE5C6" stroke="#FBE5C6" stroke-width="2" stroke-linejoin="round"/>
<ellipse cx="1549.5" cy="866" rx="9" ry="5.5" fill="#FCBA33" stroke="#1c1610" stroke-width="0.9"/><polygon points="1541,861 1549.5,857 1558,861 1549.5,866" fill="#FBE5C6" stroke="#1c1610" stroke-width="0.8"/>
<ellipse cx="1581" cy="829" rx="12.5" ry="17.5" transform="rotate(-15 1581 829)" fill="#1c1610"/>
<ellipse cx="1578" cy="828" rx="12.5" ry="17.5" transform="rotate(-15 1578 828)" fill="#FBE5C6" stroke="#1c1610" stroke-width="1"/>
<ellipse cx="1575" cy="831" rx="12.5" ry="17.5" transform="rotate(-15 1575 831)" fill="#FCBA33" stroke="#1c1610" stroke-width="1"/>
<path d="M1569,846 L1571,854 L1578,847 Z" fill="#FCBA33" stroke="#1c1610" stroke-width="0.8"/>
<path d="M1590,812 Q1598,825 1594,842" fill="none" stroke="#1c1610" stroke-width="0.7"/>
</svg>
<div class="edge-t"></div><div class="edge-r"></div>
</body>
</html>
